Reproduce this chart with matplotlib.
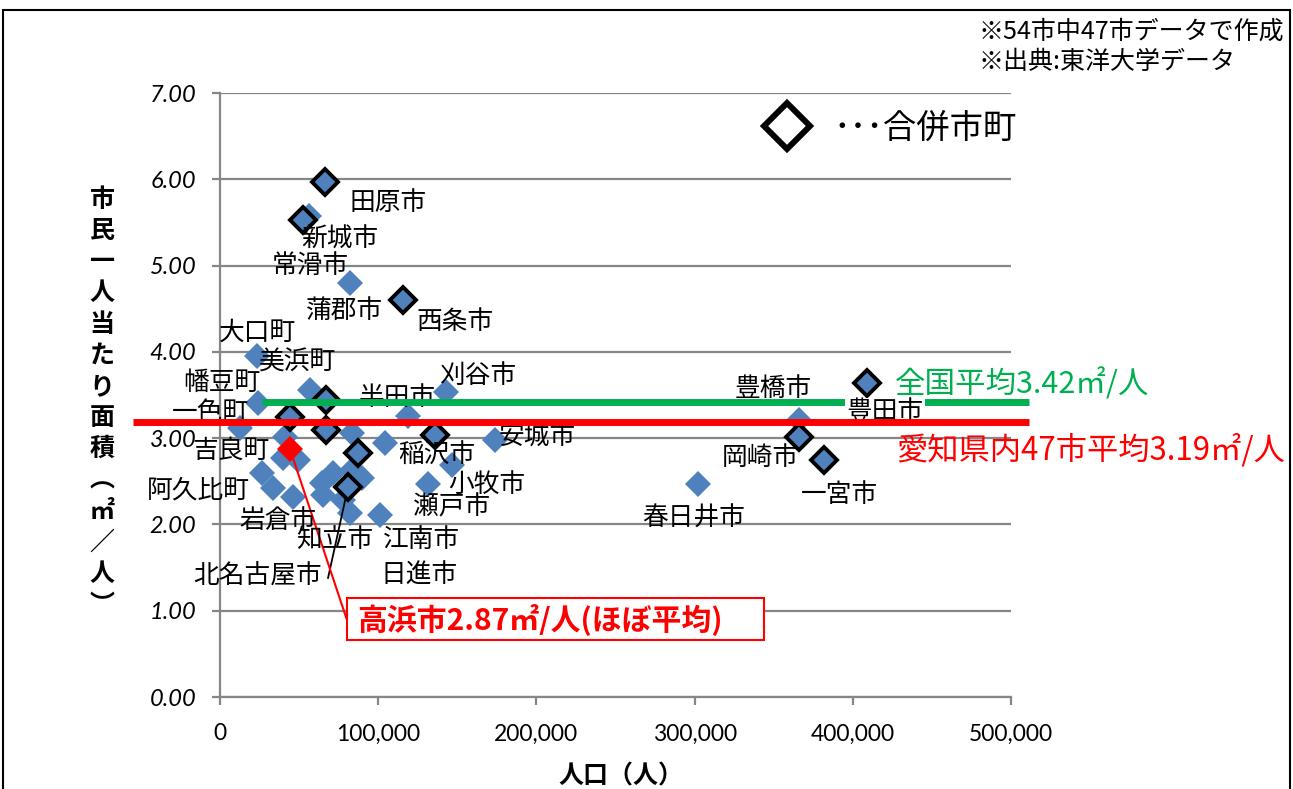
import matplotlib
matplotlib.use("Agg")
import matplotlib.pyplot as plt
from matplotlib.lines import Line2D
from matplotlib.patches import Rectangle
from matplotlib.ticker import FuncFormatter

plt.rcParams['font.family'] = ['Noto Sans CJK JP', 'DejaVu Sans']

# ---- data: population (people) vs. area per resident (m2/person) ----
pop_regular = [23400, 56900, 24000, 12600, 41100, 26500, 33500, 39800, 49300,
               46100, 64500, 71400, 65100, 82200, 101100, 83400, 83400, 104300,
               118800, 142900, 131500, 146600, 173800, 302200, 366000, 82200,
               56300, 89800, 77700]
area_regular = [3.95, 3.56, 3.41, 3.12, 3.01, 2.60, 2.42, 2.77, 2.75,
                2.32, 2.48, 2.60, 2.34, 2.13, 2.11, 2.63, 3.06, 2.94,
                3.26, 3.53, 2.47, 2.69, 2.98, 2.47, 3.21, 4.80,
                5.57, 2.54, 2.28]

# municipalities formed by merger
pop_merged = [66400, 52500, 115700, 409000, 67000, 67000, 44200, 135900,
              87200, 80900, 366000, 381800]
area_merged = [5.97, 5.53, 4.60, 3.64, 3.44, 3.09, 3.24, 3.04,
               2.83, 2.43, 3.01, 2.75]

# Takahama city
pop_takahama = 44300
area_takahama = 2.87

national_avg = 3.42
aichi_avg = 3.19

city_names = ['田原市', '新城市', '常滑市', '蒲郡市', '西条市', '大口町', '美浜町',
              '幡豆町', '一色町', '半田市', '刈谷市', '吉良町', '稲沢市', '安城市',
              '小牧市', '阿久比町', '岩倉市', '瀬戸市', '知立市', '江南市',
              '北名古屋市', '日進市', '豊橋市', '豊田市', '岡崎市', '一宮市',
              '春日井市']

y_ticks = [0, 1, 2, 3, 4, 5, 6, 7]
x_ticks = [0, 100000, 200000, 300000, 400000, 500000]

# ---- layout: label anchor points (data coordinates) ----
label_pos = [(106200, 5.72), (75900, 5.30), (56900, 4.99), (79000, 4.48),
             (148500, 4.35), (24000, 4.22), (48700, 3.87), (1300, 3.64),
             (-6300, 3.29), (111900, 3.47), (163100, 3.72), (7000, 2.85),
             (137200, 2.80), (200400, 3.01), (168800, 2.46), (-13900, 2.39),
             (36700, 2.04), (146600, 2.20), (72700, 1.82), (127100, 1.82),
             (24000, 1.40), (125800, 1.40), (349600, 3.57), (420300, 3.30),
             (341300, 2.77), (391300, 2.34), (299600, 2.07)]

BLUE = '#4F81BD'
GRID = '#868686'
GREEN = '#00B050'
RED = '#FF0000'

W, H = 1293, 789
fig = plt.figure(figsize=(W / 100, H / 100), dpi=100)
ax = fig.add_axes([220 / W, 1 - 697 / H, (1011 - 220) / W, (697 - 93) / H])

ax.set_xlim(0, 500000)
ax.set_ylim(0, 7)
ax.set_xticks(x_ticks)
ax.set_yticks(y_ticks)
ax.xaxis.set_major_formatter(FuncFormatter(lambda v, p: f'{v:,.0f}'))
ax.yaxis.set_major_formatter(FuncFormatter(lambda v, p: f'{v:.2f}'))
ax.grid(axis='y', color=GRID, lw=1.6, zorder=0)
ax.set_axisbelow(True)
for s in ['top', 'right']:
    ax.spines[s].set_visible(False)
for s in ['left', 'bottom']:
    ax.spines[s].set_color(GRID)
    ax.spines[s].set_linewidth(1.6)
ax.tick_params(axis='both', direction='out', length=6, width=1.6, color=GRID)
ax.tick_params(axis='y', pad=11)
ax.tick_params(axis='x', pad=13)
for t in ax.get_yticklabels():
    t.set_fontfamily('Lato')
    t.set_fontstyle('italic')
    t.set_fontsize(17)
for t in ax.get_xticklabels():
    t.set_fontfamily('Lato')
    t.set_fontsize(16.5)

# points
ax.plot(pop_regular, area_regular, ls='none', marker='D', ms=13.5,
        mfc=BLUE, mec=BLUE, mew=0, zorder=3)
# leader line for 北名古屋市
ax.plot([80900, 68300], [2.43, 1.38], color='black', lw=1.3, zorder=3.5)
ax.plot(pop_merged, area_merged, ls='none', marker='D', ms=13,
        mfc=BLUE, mec='black', mew=2.8, zorder=4)
ax.plot([pop_takahama], [area_takahama], ls='none', marker='D', ms=13.5,
        mfc=RED, mec=RED, mew=0, zorder=5)

# city labels
for name, (lx, ly) in zip(city_names, label_pos):
    kw = {}
    z = 6
    if name == '豊田市':
        kw['bbox'] = dict(fc='white', ec='none', pad=1)
        z = 8
    ax.text(lx, ly, name, fontsize=18.5, ha='center', va='center',
            zorder=z, **kw)

# average lines
ax.plot([26500, 511400], [national_avg, national_avg], color=GREEN, lw=5,
        solid_capstyle='butt', clip_on=False, zorder=7)
ax.plot([-55000, 511400], [aichi_avg, aichi_avg], color=RED, lw=5,
        solid_capstyle='butt', clip_on=False, zorder=9)
ax.text(426700, 3.62, f'全国平均{national_avg:.2f}㎡/人', color=GREEN,
        fontsize=22, ha='left', va='center', zorder=9)
ax.text(427300, 2.86, f'愛知県内47市平均{aichi_avg:.2f}㎡/人', color=RED,
        fontsize=22.5, ha='left', va='center', zorder=9)

# Takahama callout: framed box with a pointer to the marker
ax.add_patch(Rectangle((80300, 0.66), 263600, 0.49, fc='white', ec=RED,
                       lw=1.5, clip_on=False, zorder=10))
ax.plot([pop_takahama, 80300], [area_takahama, 0.89], color=RED, lw=1.5,
        zorder=4.5)
ax.text(86600, 0.90, f'高浜市{area_takahama:.2f}㎡/人(ほぼ平均)',
        fontsize=21.5, fontweight='bold', color=RED, ha='left', va='center',
        zorder=11)

# legend for merged municipalities
fig.add_artist(Line2D([787 / W], [1 - 126 / H], transform=fig.transFigure,
                      marker='D', ms=23, mfc='white', mec='black', mew=4.3))
fig.text(833 / W, 1 - 128 / H, '･･･合併市町', fontsize=24,
         ha='left', va='center')

# notes
fig.text(978 / W, 1 - 32 / H, '※54市中47市データで作成', fontsize=18,
         ha='left', va='center')
fig.text(978 / W, 1 - 62 / H, '※出典:東洋大学データ', fontsize=18,
         ha='left', va='center')

# vertical axis title, stacked characters
ylabel_chars = ['市', '民', '一', '人', '当', 'た', 'り', '面', '積',
                '︵', '㎡', '／', '人', '︶']
y0, y1 = 200, 605
for i, ch in enumerate(ylabel_chars):
    py = y0 + (y1 - y0) * i / (len(ylabel_chars) - 1)
    fig.text(102 / W, 1 - py / H, ch, fontsize=18, fontweight='bold',
             ha='center', va='center')

fig.text(621 / W, 1 - 776 / H, '人口（人）', fontsize=18, fontweight='bold',
         ha='center', va='center')

# chart frame
fig.add_artist(Rectangle((3 / W, -0.05), (1290 - 3) / W, 1 - 10 / H + 0.05,
                         transform=fig.transFigure, fill=False,
                         ec='black', lw=1.5))

fig.savefig('out.png', dpi=100)
